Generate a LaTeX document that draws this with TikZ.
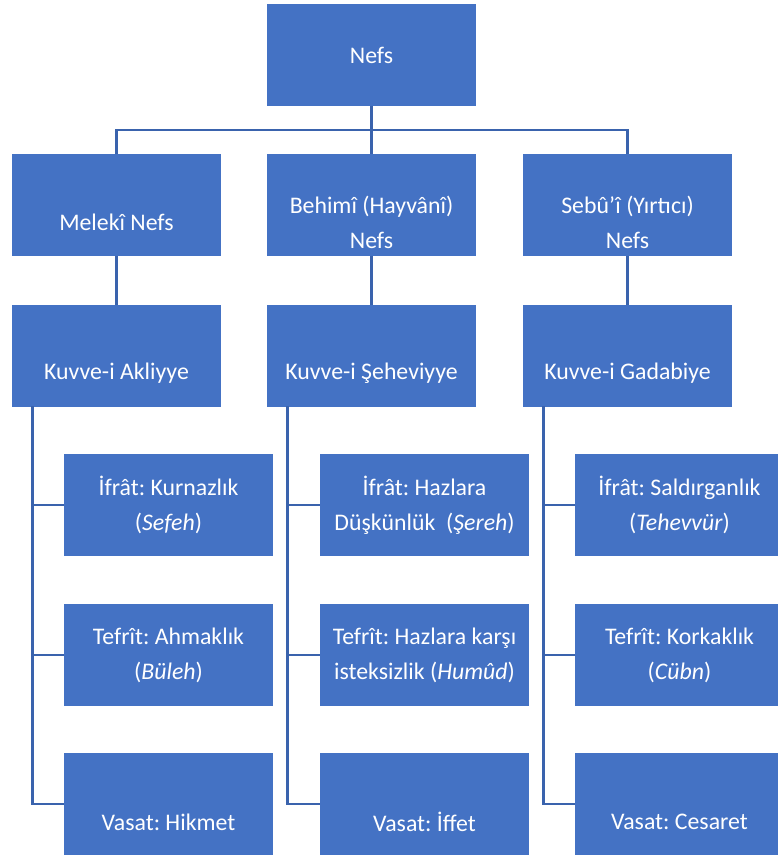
\documentclass[tikz,border=0pt]{standalone}
\usepackage{fontspec}
\setmainfont{Carlito}
\frenchspacing
\definecolor{boxblue}{HTML}{4472C4}
\definecolor{lineblue}{HTML}{3A63AD}
\tikzset{
  box/.style={draw=none, fill=boxblue, minimum width=209pt, minimum height=102pt, inner sep=0pt, outer sep=0pt},
  txt/.style={text=white, align=center, inner sep=0pt, font=\fontsize{23.8}{35}\selectfont\frenchspacing},
  conn/.style={draw=lineblue, line width=2.4pt}
}
\begin{document}
\begin{tikzpicture}[x=1pt,y=-1pt]
\useasboundingbox (0,0) rectangle (777,858);
% boxes
\node[box] (nefs) at (371.5,55.5) {};
\node[box] (mn) at (116.5,205.5) {};
\node[box] (bn) at (371.5,205.5) {};
\node[box] (sn) at (627.5,205.5) {};
\node[box] (ka) at (116.5,355.5) {};
\node[box] (ks) at (371.5,355.5) {};
\node[box] (kg) at (627.5,355.5) {};
\node[box] (a1) at (168.5,505) {};
\node[box] (a2) at (168.5,655) {};
\node[box] (a3) at (168.5,804) {};
\node[box] (b1) at (424.5,505) {};
\node[box] (b2) at (424.5,655) {};
\node[box] (b3) at (424.5,804) {};
\node[box] (c1) at (679.5,505) {};
\node[box] (c2) at (679.5,655) {};
\node[box] (c3) at (679.5,804) {};
% texts
\node[txt] (tnefs) at (nefs.center) {Nefs};
\node[txt] (tmn) at ([yshift=-17pt]mn.center) {Melekî Nefs};
\node[txt] (tbn) at ([yshift=-17pt]bn.center) {Behimî (Hayvânî)\\Nefs};
\node[txt] (tsn) at ([yshift=-17pt]sn.center) {Sebû’î (Yırtıcı)\\Nefs};
\node[txt] (tka) at ([yshift=-18pt]ka.center) {Kuvve-i Akliyye};
\node[txt] (tks) at ([yshift=-18pt]ks.center) {Kuvve-i Şeheviyye};
\node[txt] (tkg) at ([yshift=-18pt]kg.center) {Kuvve-i Gadabiye};
\node[txt] (ta1) at (a1.center) {İfrât: Kurnazlık\\(\textit{Sefeh})};
\node[txt] (ta2) at (a2.center) {Tefrît: Ahmaklık\\(\textit{Büleh})};
\node[txt] (ta3) at ([yshift=-18pt]a3.center) {Vasat: Hikmet};
\node[txt] (tb1) at (b1.center) {İfrât: Hazlara\\Düşkünlük\ \ (\textit{Şereh})};
\node[txt] (tb2) at (b2.center) {Tefrît: Hazlara karşı\\isteksizlik (\textit{Humûd})};
\node[txt] (tb3) at ([yshift=-18pt]b3.center) {Vasat: İffet};
\node[txt] (tc1) at (c1.center) {İfrât: Saldırganlık\\(\textit{Tehevvür})};
\node[txt] (tc2) at (c2.center) {Tefrît: Korkaklık\\(\textit{Cübn})};
\node[txt] (tc3) at ([yshift=-18pt]c3.center) {Vasat: Cesaret};
% connectors
\coordinate (hub) at (371.5,130);
\draw[conn] (nefs.south) -- (hub);
\draw[conn] (mn.north) -- (mn.north |- hub) -- (sn.north |- hub) -- (sn.north);
\draw[conn] (hub) -- (bn.north);
\draw[conn] (mn.south) -- (ka.north);
\draw[conn] (bn.south) -- (ks.north);
\draw[conn] (sn.south) -- (kg.north);
\coordinate (la) at (32.5,406);
\coordinate (lb) at (287.5,406);
\coordinate (lc) at (543.5,406);
\draw[conn] (la) -- (la |- a3.west) -- (a3.west);
\draw[conn] (la |- a1.west) -- (a1.west);
\draw[conn] (la |- a2.west) -- (a2.west);
\draw[conn] (lb) -- (lb |- b3.west) -- (b3.west);
\draw[conn] (lb |- b1.west) -- (b1.west);
\draw[conn] (lb |- b2.west) -- (b2.west);
\draw[conn] (lc) -- (lc |- c3.west) -- (c3.west);
\draw[conn] (lc |- c1.west) -- (c1.west);
\draw[conn] (lc |- c2.west) -- (c2.west);
\end{tikzpicture}
\end{document}
